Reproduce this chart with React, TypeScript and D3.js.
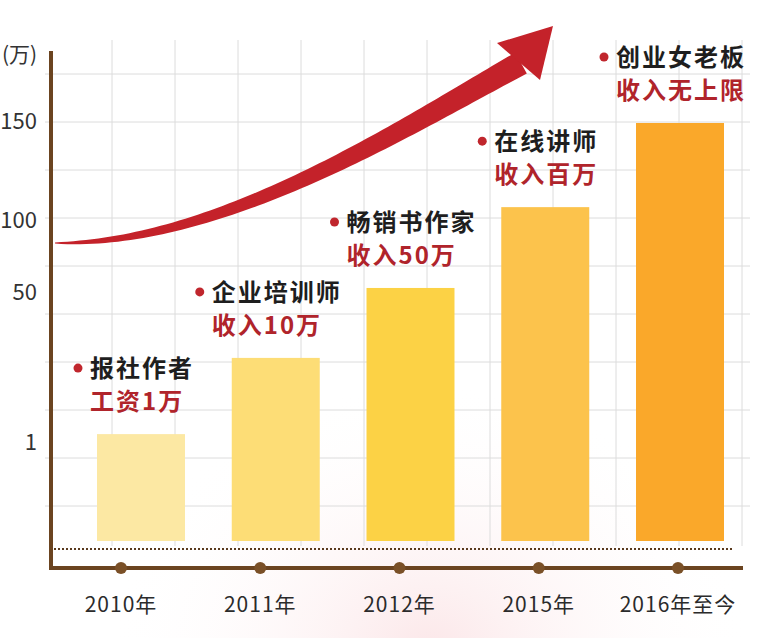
import React from 'react';
import * as d3 from 'd3';

const categories = ['2010年', '2011年', '2012年', '2015年', '2016年至今'];
const values = [3.9, 28.8, 53.5, 107, 149.5];
const roles = ['报社作者', '企业培训师', '畅销书作家', '在线讲师', '创业女老板'];
const incomes = ['工资1万', '收入10万', '收入50万', '收入百万', '收入无上限'];
const yTickValues = [1, 50, 100, 150];
const yUnit = '(万)';
const barColors = ['#FCE8A3', '#FDDD76', '#FCD245', '#FCC34C', '#FAA82A'];

const W = 768;
const H = 638;
const FONT = '"Noto Sans CJK SC", "Noto Sans", sans-serif';

// layout
const axisX = 51;
const axisY = 568;
const axisTop = 51;
const axisRight = 743;
const dottedY = 549;
const gridTop = 40;
const gridBottom = 546;
const gridLeft = 45;
const gridRight = 750;

const y = d3.scaleLinear().domain([0, 1, 50, 100, 150]).range([541, 443, 293, 221, 122]);
const xBand = d3.scaleBand<string>().domain(categories).range([97, 724]).paddingInner(0.347).paddingOuter(0);
const xPoint = d3.scalePoint<string>().domain(categories).range([121, 678]);

const hGrid = d3.range(74, 510, 48);
const vGrid = d3.range(112, 746, 63);

function arrowShaft(): string {
  const P = [[55, 243], [220, 245], [400, 130], [521, 63]];
  const bez = (t: number) => {
    const u = 1 - t;
    const a = u * u * u, b = 3 * u * u * t, c = 3 * u * t * t, d = t * t * t;
    return [a * P[0][0] + b * P[1][0] + c * P[2][0] + d * P[3][0], a * P[0][1] + b * P[1][1] + c * P[2][1] + d * P[3][1]];
  };
  const N = 80;
  const upper: [number, number][] = [];
  const lower: [number, number][] = [];
  for (let i = 0; i <= N; i++) {
    const t = i / N;
    const p = bez(t);
    const p2 = bez(Math.min(1, t + 0.001));
    const p1 = bez(Math.max(0, t - 0.001));
    const dx = p2[0] - p1[0], dy = p2[1] - p1[1];
    const len = Math.hypot(dx, dy) || 1;
    const nx = -dy / len, ny = dx / len;
    const w = (1 + 23 * Math.pow(t, 0.72)) / 2;
    upper.push([p[0] + nx * w, p[1] + ny * w]);
    lower.push([p[0] - nx * w, p[1] - ny * w]);
  }
  const pts = upper.concat(lower.reverse());
  return d3.line()(pts) + 'Z';
}

const headPts: [number, number][] = [[553, 26], [497, 43], [540, 80]];

export default function App() {
  const bw = xBand.bandwidth();
  return (
    <svg width={W} height={H} style={{ position: 'absolute', left: 0, top: 0, display: 'block' }} fontFamily={FONT}>
      <defs>
        <radialGradient id="glow" cx="0.56" cy="1.02" r="0.42">
          <stop offset="0" stopColor="#fbe4e6" stopOpacity="0.9" />
          <stop offset="1" stopColor="#ffffff" stopOpacity="0" />
        </radialGradient>
      </defs>
      <rect x={0} y={0} width={W} height={H} fill="#ffffff" />
      <rect x={0} y={0} width={W} height={H} fill="url(#glow)" />

      {/* grid */}
      <g stroke="#dcdcdc" strokeWidth={1}>
        {hGrid.map((gy) => (
          <line key={'h' + gy} x1={gridLeft} x2={gridRight} y1={gy} y2={gy} />
        ))}
        {vGrid.map((gx) => (
          <line key={'v' + gx} x1={gx} x2={gx} y1={gridTop} y2={gridBottom} />
        ))}
      </g>

      {/* bars */}
      {categories.map((c, i) => (
        <rect key={c} x={xBand(c)} y={y(values[i])} width={bw} height={y(0) - y(values[i])} fill={barColors[i]} />
      ))}

      {/* dotted baseline */}
      <line x1={54} x2={733} y1={dottedY} y2={dottedY} stroke="#5a3a1e" strokeWidth={2} strokeDasharray="2,2" />

      {/* axes */}
      <line x1={axisX} x2={axisX} y1={axisTop} y2={axisY + 2} stroke="#6b4420" strokeWidth={4} />
      <line x1={axisX - 2} x2={axisRight} y1={axisY} y2={axisY} stroke="#6b4420" strokeWidth={4} />
      {categories.map((c) => (
        <circle key={'d' + c} cx={xPoint(c)} cy={axisY} r={6} fill="#7a5027" />
      ))}

      {/* x labels */}
      {categories.map((c) => (
        <text key={'xl' + c} x={xPoint(c)} y={612} textAnchor="middle" fontSize={21} letterSpacing={1} fill="#2b2b2b">
          {c}
        </text>
      ))}

      {/* y labels */}
      <text x={2} y={62} fontSize={21} fill="#333">{yUnit}</text>
      {yTickValues.map((v) => (
        <text key={'yl' + v} x={37} y={y(v) + 7} textAnchor="end" fontSize={22} fill="#333">
          {v}
        </text>
      ))}

      {/* arrow */}
      <path d={arrowShaft()} fill="#c4222a" />
      <polygon points={headPts.map((p) => p.join(',')).join(' ')} fill="#c4222a" />

      {/* annotations */}
      {categories.map((c, i) => {
        const cx = (xBand(c) as number) + bw / 2;
        const top = y(values[i]);
        const tw = roles[i].length * 26 - 2;
        const sx = cx - tw / 2;
        return (
          <g key={'an' + c}>
            <circle cx={sx - 12} cy={top - 66} r={4.5} fill="#c0262d" />
            <text x={sx} y={top - 57} fontSize={24} fontWeight={700} letterSpacing={2} fill="#1e1e1e">
              {roles[i]}
            </text>
            <text x={sx} y={top - 24} fontSize={24} fontWeight={700} letterSpacing={2} fill="#b0242b">
              {incomes[i]}
            </text>
          </g>
        );
      })}
    </svg>
  );
}
